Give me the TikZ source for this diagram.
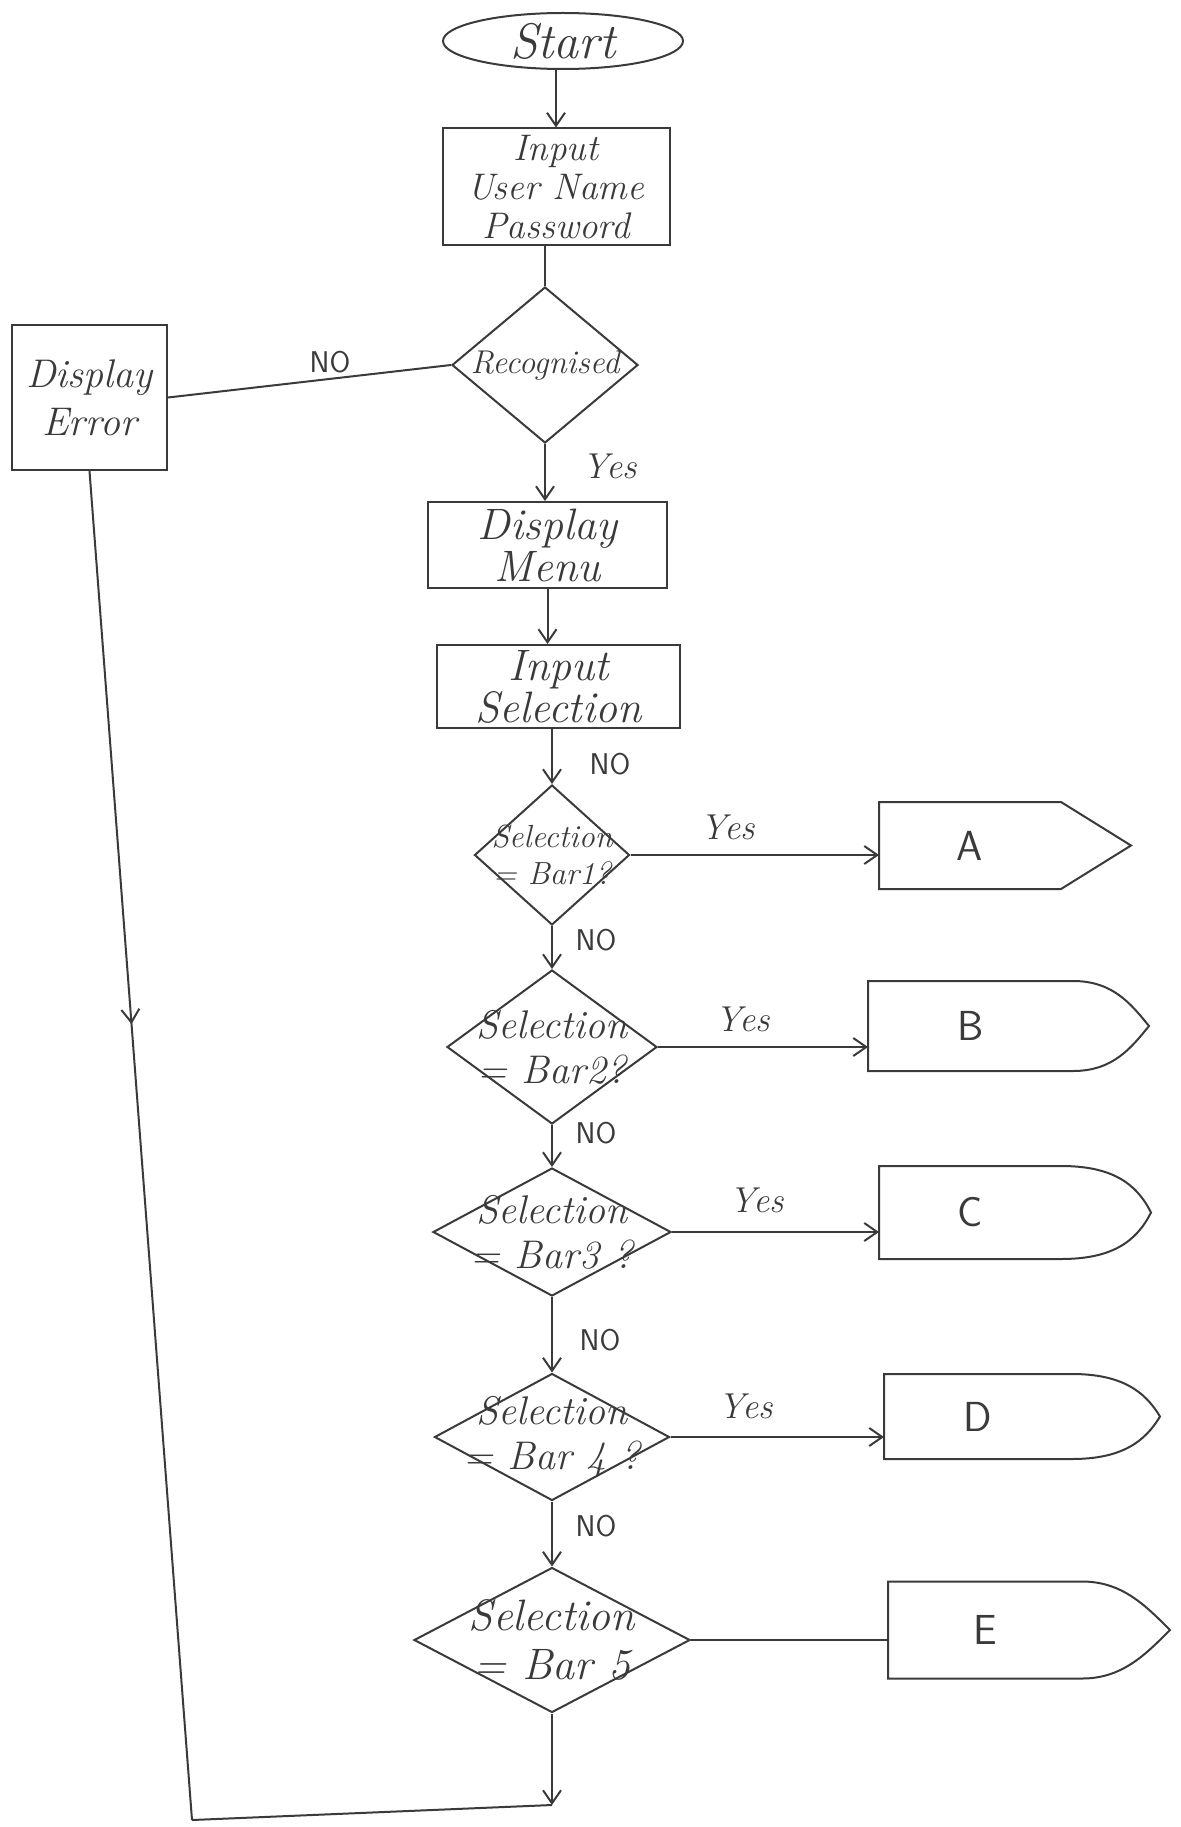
\documentclass[tikz,border=0pt]{standalone}
\usepackage{fontspec}
\usetikzlibrary{shapes.geometric,arrows.meta,decorations.markings}
\definecolor{ink}{HTML}{3A3A3A}
\newcommand\hw[2]{\fontsize{#1}{#2}\selectfont\itshape}
\newcommand\hs[2]{\fontsize{#1}{#2}\selectfont\sffamily}
\begin{document}
\begin{tikzpicture}[x=1pt,y=-1pt,line width=2pt,color=ink,
  term/.style={draw,ellipse,inner sep=0pt,font=\hw{50}{50}},
  box/.style={draw,rectangle,inner sep=0pt,align=center},
  dia/.style={draw,diamond,inner sep=0pt},
  dtext/.style={inner sep=0pt,align=center},
  conn/.style={rectangle,inner sep=0pt,font=\hs{42}{42}},
  lblno/.style={inner sep=0pt,font=\hs{30}{30}},
  lblyes/.style={inner sep=0pt,font=\hw{36}{36}},
  arr/.style={-{Straight Barb[length=13pt,width=18pt,line width=2pt]}},
  midarr/.style={postaction={decorate},decoration={markings,
     mark=at position 0.41 with {\arrow{Straight Barb[length=13pt,width=18pt,line width=2pt]}}}}]
\useasboundingbox (0,0) rectangle (1180,1827);

% main column
\node[term,minimum width=240,minimum height=56] (start) at (563,41) {Start};
\node[box,minimum width=227,minimum height=117,font=\hw{37}{39}] (inp) at (556,187) {Input\\User Name\\Password};
\node[dia,minimum width=186,minimum height=156] (rec) at (545,365) {};
\node[dtext,font=\hw{33}{33}] (rect) at (rec) {Recognised};
\node[box,minimum width=155,minimum height=145,font=\hw{40}{48}] (err) at (89.5,397.5) {Display\\Error};
\node[box,minimum width=239,minimum height=86,font=\hw{44}{42}] (menu) at (547.5,545) {Display\\Menu};
\node[box,minimum width=243,minimum height=83,font=\hw{44}{42}] (insel) at (558.5,686.5) {Input\\Selection};

% decisions
\node[dia,minimum width=155,minimum height=140] (d1) at (552,855) {};
\node[dtext,font=\hw{32}{37}] (d1t) at (d1) {Selection\\= Bar1?};
\node[dia,minimum width=210,minimum height=154] (d2) at (552,1047) {};
\node[dtext,font=\hw{40}{45}] (d2t) at (d2) {Selection\\= Bar2?};
\node[dia,minimum width=238,minimum height=128] (d3) at (552,1232) {};
\node[dtext,font=\hw{40}{45}] (d3t) at (d3) {Selection\\= Bar3 ?};
\node[dia,minimum width=235,minimum height=127] (d4) at (552,1437) {};
\node[dtext,font=\hw{40}{45}] (d4t) at (d4) {Selection\\= Bar 4 ?};
\node[dia,minimum width=276,minimum height=145] (d5) at (552,1640) {};
\node[dtext,font=\hw{44}{49}] (d5t) at (d5) {Selection\\= Bar 5};

% off-page connectors
\node[conn,minimum width=180,minimum height=85] (A) at (970,845.5) {A};
\node[conn,minimum width=203,minimum height=88] (B) at (970.5,1026) {B};
\node[conn,minimum width=180,minimum height=91] (C) at (970,1212.5) {C};
\node[conn,minimum width=186,minimum height=83] (D) at (978,1416.5) {D};
\node[conn,minimum width=192,minimum height=95] (E) at (985,1630) {E};
\coordinate (tA) at ([xshift=70]A.east);
\coordinate (tB) at ([xshift=76]B.east);
\coordinate (tC) at ([xshift=90]C.east);
\coordinate (tD) at ([xshift=88]D.east);
\coordinate (tE) at ([xshift=88]E.east);
\draw (A.north east) -- (A.north west) -- (A.south west) -- (A.south east) -- (tA) -- cycle;
\draw (B.north east) -- (B.north west) -- (B.south west) -- (B.south east)
  .. controls +(40,0) and +(-18,22) .. (tB) .. controls +(-18,-22) and +(40,0) .. (B.north east);
\draw (C.north east) -- (C.north west) -- (C.south west) -- (C.south east)
  .. controls +(50,0) and +(-15,30) .. (tC) .. controls +(-15,-30) and +(50,0) .. (C.north east);
\draw (D.north east) -- (D.north west) -- (D.south west) -- (D.south east)
  .. controls +(50,0) and +(-15,25) .. (tD) .. controls +(-15,-25) and +(50,0) .. (D.north east);
\draw (E.north east) -- (E.north west) -- (E.south west) -- (E.south east)
  .. controls +(40,0) and +(-25,25) .. (tE) .. controls +(-25,-25) and +(40,0) .. (E.north east);

% connectors
\draw[arr] (inp.north |- start.south) -- (inp.north);
\draw (rec.north |- inp.south) -- (rec.north);
\draw (rec.west) -- (err.east);
\draw[arr] (rec.south) -- (rec.south |- menu.north);
\draw[arr] (menu.south) -- (menu.south |- insel.north);
\draw[arr] (d1.north |- insel.south) -- (d1.north);
\draw[arr] (d1.south) -- (d2.north);
\draw[arr] (d2.south) -- (d3.north);
\draw[arr] (d3.south) -- (d4.north);
\draw[arr] (d4.south) -- (d5.north);
\draw[arr] (d1.east) -- (d1.east -| A.west);
\draw[arr] (d2.east) -- (d2.east -| B.west);
\draw[arr] (d3.east) -- (d3.east -| C.west);
\draw[arr] (d4.east) -- (d4.east -| D.west);
\draw (d5.east) -- (d5.east -| E.west);
\coordinate (bc) at (552,1805);
\coordinate (lc) at (192,1820);
\draw[arr] (d5.south) -- (bc);
\draw[midarr] (err.south) -- (lc);
\draw (lc) -- (bc);

% labels
\node[lblno] (no0) at (330,362) {NO};
\node[lblyes] (yes0) at (610,466) {Yes};
\node[lblno] (no1) at (610,764) {NO};
\node[lblyes] (yes1) at (728,827) {Yes};
\node[lblno] (no2) at (596,940) {NO};
\node[lblyes] (yes2) at (743,1019) {Yes};
\node[lblno] (no3) at (596,1133) {NO};
\node[lblyes] (yes3) at (757,1200) {Yes};
\node[lblno] (no4) at (600,1340) {NO};
\node[lblyes] (yes4) at (746,1406) {Yes};
\node[lblno] (no5) at (596,1526) {NO};
\end{tikzpicture}
\end{document}
